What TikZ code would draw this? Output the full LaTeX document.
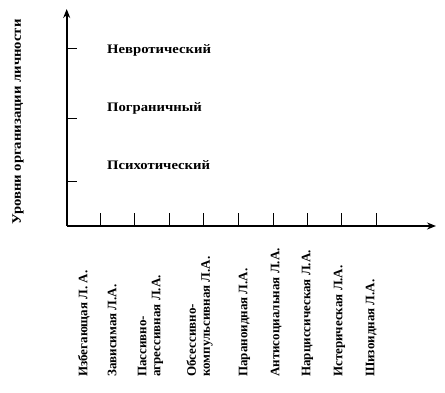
\documentclass[tikz,border=0pt]{standalone}
\usepackage{fontspec}
\usepackage{graphicx}
\setmainfont{Liberation Serif}
\usetikzlibrary{arrows.meta}
\newcommand{\wide}[1]{\scalebox{1.13}[1]{#1}}
\begin{document}
\begin{tikzpicture}[x=1pt,y=-1pt,
  axis/.style={line width=1.9pt,-{Stealth[length=9pt,width=7pt]}},
  tick/.style={line width=0.9pt},
  lbl/.style={font=\bfseries\fontsize{13}{14}\selectfont,inner sep=0pt},
  vlbl/.style={lbl,rotate=90,anchor=mid west},
  vlbl2/.style={lbl,rotate=90,anchor=west,align=left}]
\useasboundingbox (0,0) rectangle (445,393);
\coordinate (O) at (66.7,226);
\coordinate (Ytop) at (66.7,9);
\coordinate (Xend) at (436,226);
\draw[axis] (O) -- (Ytop);
\draw[axis] (O) -- (Xend);
\foreach \y in {48.3,118.3,181} \draw[tick] (66.7,\y) -- (76.5,\y);
\foreach \x in {100.7,134.7,169.3,203.3,238.3,273.3,307.7,341.7,376} \draw[tick] (\x,226) -- (\x,213);
\node[lbl,rotate=90,anchor=center] (ylab) at (18,122) {\wide{Уровни организации личности}};
\node[lbl,anchor=mid west] (n1) at (107,51.7) {\wide{Невротический}};
\node[lbl,anchor=mid west] (n2) at (107,109) {\wide{Пограничный}};
\node[lbl,anchor=mid west] (n3) at (107,167) {\wide{Психотический}};
\node[vlbl] (c1) at (85,377) {Избегающая Л. А.};
\node[vlbl] (c2) at (114,377) {Зависимая Л.А.};
\node[vlbl2] (c3) at (150.5,377) {Пассивно-\\агрессивная Л.А.};
\node[vlbl2] (c4) at (199.5,377) {Обсессивно-\\компульсивная Л.А.};
\node[vlbl] (c5) at (245,377) {Параноидная Л.А.};
\node[vlbl] (c6) at (277,377) {Антисоциальная Л.А.};
\node[vlbl] (c7) at (308,377) {Нарциссическая Л.А.};
\node[vlbl] (c8) at (340,377) {Истерическая Л.А.};
\node[vlbl] (c9) at (372,377) {Шизоидная Л.А.};
\end{tikzpicture}
\end{document}
